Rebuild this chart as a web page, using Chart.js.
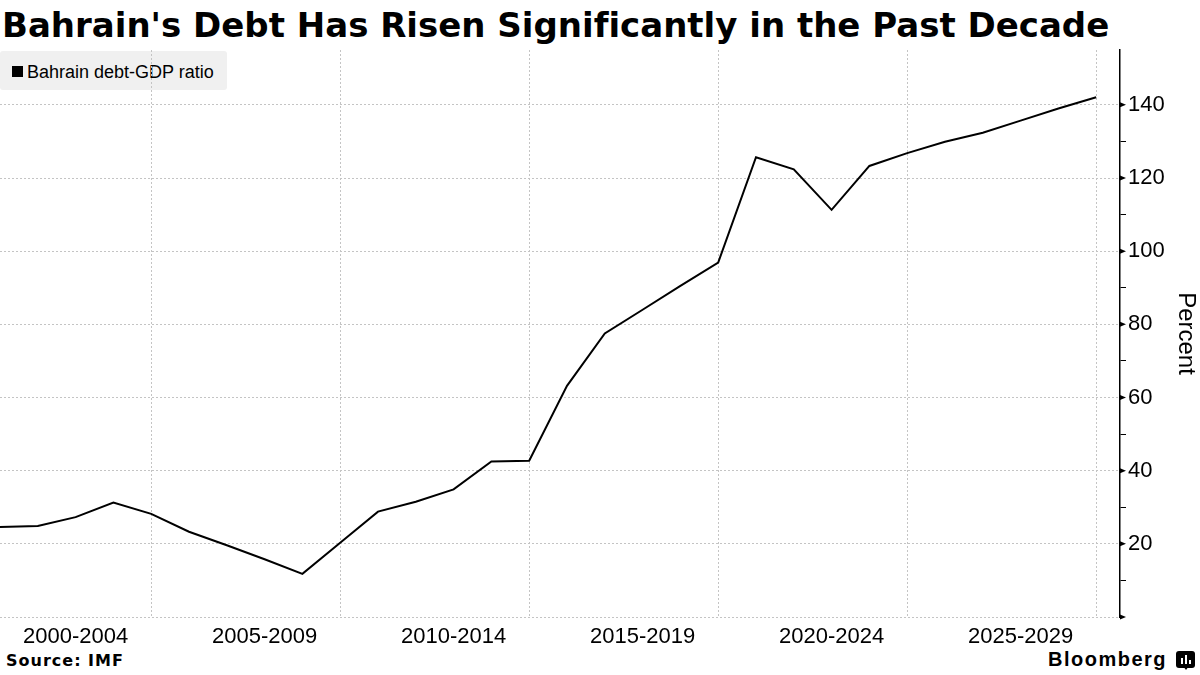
<!DOCTYPE html>
<html><head><meta charset="utf-8">
<script src="https://cdn.jsdelivr.net/npm/chart.js@4.4.1/dist/chart.umd.min.js"></script>
<style>
html,body{margin:0;padding:0;background:#fff;}
#wrap{position:relative;width:1200px;height:675px;overflow:hidden;background:#fff;}
#title{position:absolute;left:2px;top:5px;font-family:"DejaVu Sans";font-weight:bold;font-size:34px;line-height:40px;white-space:nowrap;color:#000;}
#legend{position:absolute;left:0;top:51px;width:227px;height:39px;background:#f0f0f0;border-radius:3px;font-family:"Liberation Sans";font-size:18px;color:#000;z-index:0;}
#legend .sw{position:absolute;left:12px;top:15px;width:11px;height:11px;background:#000;}
#legend .tx{position:absolute;left:27px;top:10px;line-height:22px;white-space:nowrap;}
#chartbox{position:absolute;left:0;top:0;width:1200px;height:675px;z-index:1;}
#source{position:absolute;left:6px;top:651px;font-family:"DejaVu Sans";font-weight:bold;font-size:16px;line-height:20px;letter-spacing:1px;color:#000;}
#brand{position:absolute;left:1048px;top:647px;font-family:"Liberation Sans";font-weight:bold;font-size:20px;line-height:24px;letter-spacing:1.5px;color:#000;}
#icon{position:absolute;left:1176px;top:651px;width:19px;height:17px;background:#000;border-radius:3px;}
#icon i{position:absolute;bottom:4px;width:2px;background:#fff;}
#icon b{position:absolute;left:7px;top:15px;width:0;height:0;border-left:3px solid transparent;border-right:3px solid transparent;border-top:4px solid #000;}
</style>
</head>
<body>
<div id="wrap">
  <div id="title">Bahrain's Debt Has Risen Significantly in the Past Decade</div>
  <div id="legend"><span class="sw"></span><span class="tx">Bahrain debt-GDP ratio</span></div>
  <div id="chartbox"><canvas id="c" width="1200" height="675"></canvas></div>
  <div id="source">Source: IMF</div>
  <div id="brand">Bloomberg</div>
  <div id="icon"><i style="left:5px;height:6px"></i><i style="left:9px;height:9px"></i><i style="left:13px;height:4px"></i><b></b></div>
</div>
<script>
const years = [2000,2001,2002,2003,2004,2005,2006,2007,2008,2009,2010,2011,2012,2013,2014,2015,2016,2017,2018,2019,2020,2021,2022,2023,2024,2025,2026,2027,2028,2029];
const debtRatio = [24.6,24.9,27.3,31.3,28.2,23.3,19.6,15.8,11.8,20.3,28.8,31.5,34.9,42.5,42.7,63.2,77.5,84.0,90.5,96.9,125.7,122.4,111.3,123.3,126.8,129.9,132.4,135.7,139.0,142.1];
const periodLabels = ['2000-2004','2005-2009','2010-2014','2015-2019','2020-2024','2025-2029'];
const periodLabelYears = [2002,2007,2012,2017,2022,2027];
const periodGridYears = [2004,2009,2014,2019,2024,2029];
const yMajorTicks = [0,20,40,60,80,100,120,140];
const yLabelTicks = [20,40,60,80,100,120,140];

// fit title width
(function(){
  const t = document.getElementById('title');
  const w = t.getBoundingClientRect().width;
  const n = t.textContent.length;
  t.style.letterSpacing = ((1106 - w) / n) + 'px';
})();

const GRID = '#c4c4c4';
const majorTickPlugin = {
  id: 'majorTickMarks',
  afterDraw(chart){
    const s = chart.scales.y, ctx = chart.ctx;
    ctx.save();
    ctx.fillStyle = '#000';
    yMajorTicks.forEach(v => {
      const py = s.getPixelForValue(v);
      const x0 = s.left;
      ctx.beginPath();
      ctx.moveTo(x0, py - 2.5);
      ctx.lineTo(x0 + 6, py);
      ctx.lineTo(x0, py + 2.5);
      ctx.closePath();
      ctx.fill();
    });
    ctx.restore();
  }
};

new Chart(document.getElementById('c'), {
  type: 'line',
  data: {
    datasets: [{
      label: 'Bahrain debt-GDP ratio',
      data: years.map((y, i) => ({x: y, y: debtRatio[i]})),
      borderColor: '#000',
      backgroundColor: '#000',
      borderWidth: 2,
      pointRadius: 0,
      tension: 0,
      fill: false
    }]
  },
  options: {
    responsive: false,
    devicePixelRatio: 1,
    animation: false,
    layout: {padding: {top: 50, bottom: 17.6, left: 0, right: 0}},
    plugins: {legend: {display: false}, tooltip: {enabled: false}, title: {display: false}},
    scales: {
      x: {
        type: 'linear',
        min: 2000,
        max: 2029.63,
        afterBuildTicks: s => {
          s.ticks = [...periodLabelYears, ...periodGridYears].sort((a, b) => a - b).map(v => ({value: v}));
        },
        ticks: {
          autoSkip: false, maxRotation: 0, minRotation: 0, padding: 7, color: '#000',
          font: {family: 'Liberation Sans', size: 22},
          callback: v => { const i = periodLabelYears.indexOf(v); return i >= 0 ? periodLabels[i] : ''; }
        },
        grid: {
          drawTicks: false,
          lineWidth: 1,
          color: c => (c.tick && periodGridYears.includes(c.tick.value)) ? GRID : 'rgba(0,0,0,0)'
        },
        border: {display: false, dash: [2, 2]}
      },
      y: {
        position: 'right',
        min: 0,
        max: 155,
        afterFit: s => { s.width = 80; },
        ticks: {
          stepSize: 10, autoSkip: false, padding: 2, color: '#000',
          font: {family: 'Liberation Sans', size: 22},
          callback: v => yLabelTicks.includes(v) ? String(v) : ''
        },
        grid: {
          drawTicks: true,
          tickLength: 6,
          tickWidth: 1,
          lineWidth: 1,
          color: c => (c.tick && yMajorTicks.includes(c.tick.value)) ? GRID : 'rgba(0,0,0,0)',
          tickColor: c => (c.tick && c.tick.value % 10 === 0 && !yMajorTicks.includes(c.tick.value)) ? '#000' : 'rgba(0,0,0,0)'
        },
        border: {display: true, color: '#000', width: 1.5, dash: [2, 2]},
        title: {display: true, text: 'Percent', color: '#000', padding: 0, font: {family: 'Liberation Sans', size: 24}}
      }
    }
  },
  plugins: [majorTickPlugin]
});
</script>
</body></html>
